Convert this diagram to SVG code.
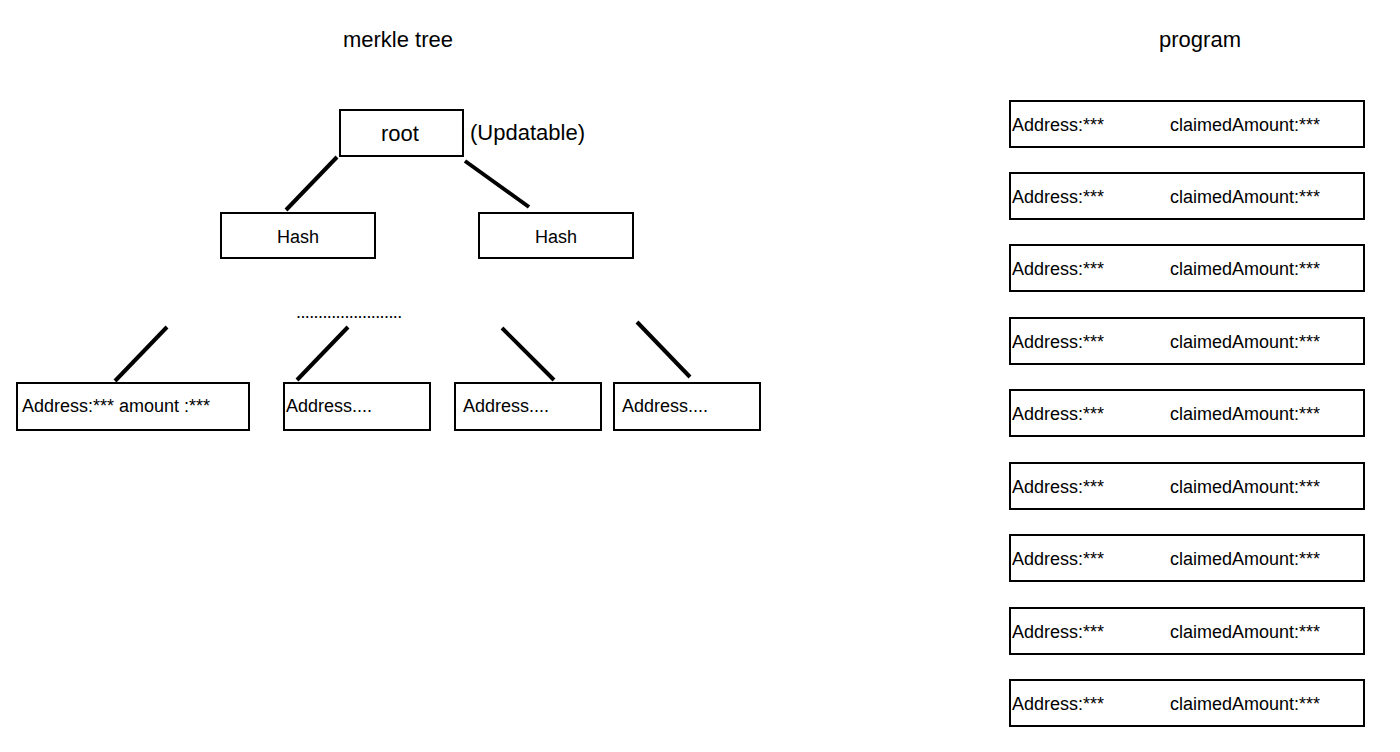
<svg xmlns="http://www.w3.org/2000/svg" width="1400" height="752" viewBox="0 0 1400 752">
<style>
text{font-family:"Liberation Sans",Arial,sans-serif;fill:#000}
.b{fill:#fff;stroke:#000;stroke-width:2}
.l{stroke:#000;stroke-width:4}
.t{font-size:18px}
</style>
<rect width="1400" height="752" fill="#fff"/>
<text x="398" y="47" font-size="22" text-anchor="middle">merkle tree</text>
<text x="1200" y="47" font-size="22" text-anchor="middle">program</text>
<g id="root"><rect class="b" x="340" y="110" width="123" height="46"/><text x="400" y="141" font-size="22" text-anchor="middle">root</text></g>
<text x="470" y="140" font-size="22">(Updatable)</text>
<g id="hash1"><rect class="b" x="221" y="213" width="154" height="45"/><text x="298" y="243" font-size="18" text-anchor="middle">Hash</text></g>
<g id="hash2"><rect class="b" x="479" y="213" width="154" height="45"/><text x="556" y="243" font-size="18" text-anchor="middle">Hash</text></g>
<text x="296" y="318" font-size="18" letter-spacing="-0.6">........................</text>
<g id="leaf1"><rect class="b" x="17" y="383" width="232" height="47"/><text class="t" x="22" y="412">Address:*** amount :***</text></g>
<g id="leaf2"><rect class="b" x="284" y="383" width="146" height="47"/><text class="t" x="286" y="412">Address....</text></g>
<g id="leaf3"><rect class="b" x="455" y="383" width="146" height="47"/><text class="t" x="463" y="412">Address....</text></g>
<g id="leaf4"><rect class="b" x="614" y="383" width="146" height="47"/><text class="t" x="622" y="412">Address....</text></g>
<g id="connectors">
<line class="l" x1="337" y1="157" x2="286" y2="210"/>
<line class="l" x1="465" y1="161" x2="529" y2="207"/>
<line class="l" x1="167" y1="327" x2="115" y2="381"/>
<line class="l" x1="348" y1="327" x2="297" y2="380"/>
<line class="l" x1="502" y1="328" x2="554" y2="380"/>
<line class="l" x1="637" y1="322" x2="690" y2="377"/>
</g>
<g id="p1"><rect class="b" x="1010" y="101" width="354" height="46"/><text class="t" x="1012" y="131">Address:***</text><text class="t" x="1170" y="131">claimedAmount:***</text></g>
<g id="p2"><rect class="b" x="1010" y="173" width="354" height="46"/><text class="t" x="1012" y="203">Address:***</text><text class="t" x="1170" y="203">claimedAmount:***</text></g>
<g id="p3"><rect class="b" x="1010" y="245" width="354" height="46"/><text class="t" x="1012" y="275">Address:***</text><text class="t" x="1170" y="275">claimedAmount:***</text></g>
<g id="p4"><rect class="b" x="1010" y="318" width="354" height="46"/><text class="t" x="1012" y="348">Address:***</text><text class="t" x="1170" y="348">claimedAmount:***</text></g>
<g id="p5"><rect class="b" x="1010" y="390" width="354" height="46"/><text class="t" x="1012" y="420">Address:***</text><text class="t" x="1170" y="420">claimedAmount:***</text></g>
<g id="p6"><rect class="b" x="1010" y="463" width="354" height="46"/><text class="t" x="1012" y="493">Address:***</text><text class="t" x="1170" y="493">claimedAmount:***</text></g>
<g id="p7"><rect class="b" x="1010" y="535" width="354" height="46"/><text class="t" x="1012" y="565">Address:***</text><text class="t" x="1170" y="565">claimedAmount:***</text></g>
<g id="p8"><rect class="b" x="1010" y="608" width="354" height="46"/><text class="t" x="1012" y="638">Address:***</text><text class="t" x="1170" y="638">claimedAmount:***</text></g>
<g id="p9"><rect class="b" x="1010" y="680" width="354" height="46"/><text class="t" x="1012" y="710">Address:***</text><text class="t" x="1170" y="710">claimedAmount:***</text></g>
</svg>
